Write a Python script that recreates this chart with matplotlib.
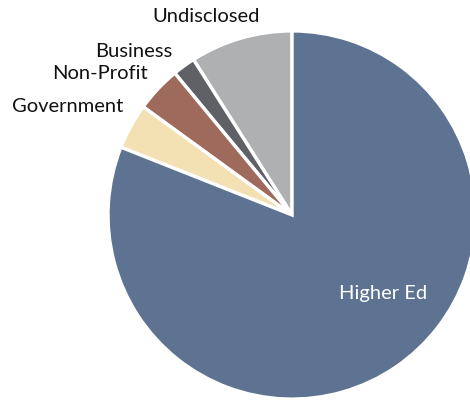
import matplotlib.pyplot as plt

# data (clockwise from 12 o'clock: Higher Ed first; matplotlib draws counterclockwise)
SECTORS = ['Undisclosed', 'Business', 'Non-Profit', 'Government', 'Higher Ed']
SHARES = [9, 2, 4, 4, 81]
COLORS = ['#AFB0B2', '#606166', '#9E6A5B', '#F3E1B4', '#5E7391']

# label anchor positions (data units, pie radius = 1)
LABEL_POS = {
    'Undisclosed': (-0.467, 1.076, 'center'),
    'Business':    (-0.652, 0.886, 'right'),
    'Non-Profit':  (-0.783, 0.766, 'right'),
    'Government':  (-0.918, 0.587, 'right'),
    'Higher Ed':   (0.495, -0.424, 'center'),
}

plt.rcParams['font.family'] = ['Lato', 'DejaVu Sans']

fig = plt.figure(figsize=(4.7, 4.0), dpi=100)
ax = fig.add_axes([0, 0, 1, 1])

ax.pie(SHARES, colors=COLORS, startangle=90, counterclock=True,
       radius=1.0, wedgeprops=dict(edgecolor='white', linewidth=2.4))

for name in SECTORS:
    x, y, ha = LABEL_POS[name]
    color = 'white' if name == 'Higher Ed' else '#111111'
    ax.text(x, y, name, ha=ha, va='center', fontsize=14.5, color=color)

ax.set_xlim(-1.587, 0.967)
ax.set_ylim(-1.005, 1.168)
ax.set_aspect('auto')
ax.axis('off')

fig.savefig('out.png', dpi=100)
